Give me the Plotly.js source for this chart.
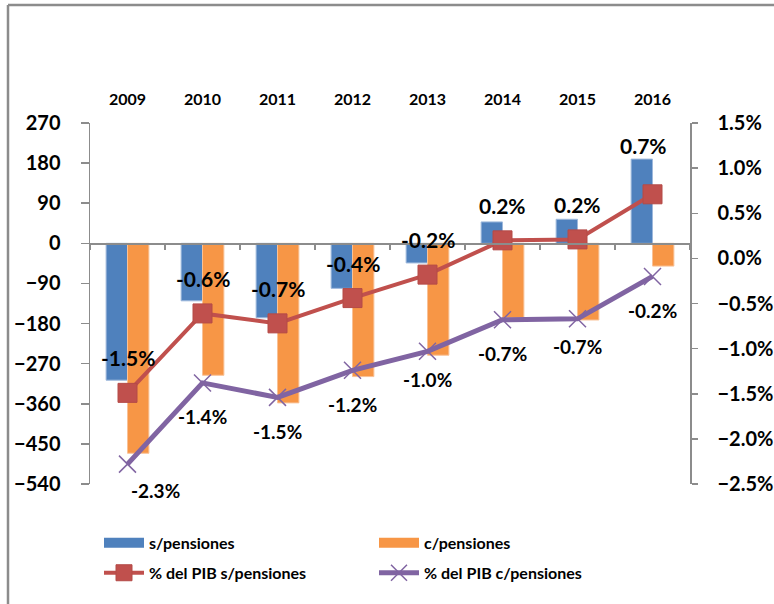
<!DOCTYPE html>
<html>
<head>
<meta charset="utf-8">
<script src="https://cdn.plot.ly/plotly-3.0.1.min.js"></script>
<style>html,body{margin:0;padding:0;background:#fff;}#err{position:absolute;left:20px;top:20px;color:red;font:12px sans-serif;}</style>
</head>
<body>
<div id="chart" style="width:774px;height:604px;"></div>
<div id="err"></div>
<script>
window.onerror = function(m){ document.getElementById('err').textContent += ' ERR: ' + m; };
const years = ['2009','2010','2011','2012','2013','2014','2015','2016'];
const sinPensiones = [-307, -129, -167, -101, -44, 48, 54, 189];
const conPensiones = [-471, -296, -358, -299, -251, -167, -172, -51];
const pibSinPensiones = [-1.49, -0.61, -0.72, -0.44, -0.18, 0.20, 0.21, 0.71];
const pibConPensiones = [-2.28, -1.38, -1.54, -1.24, -1.03, -0.68, -0.67, -0.20];

const FONT = 'Lato, "Open Sans", sans-serif';
const AXC = '#8c8c8c';
const BLUE = '#4F81BD', ORANGE = '#F79646', RED = '#C0504D', PURPLE = '#8064A2';
// hand-placed data labels in the original (pixel nudges, style only)
const redLabelNudge = {'2016': {dx:-9, dy:14}};
const purpleLabelNudge = {'2009': {dx:28, dy:8}, '2013': {dx:0, dy:6}, '2015': {dx:0, dy:6}};

const traces = [
  {type:'bar', name:'s/pensiones', x:years, y:sinPensiones, xaxis:'x', yaxis:'y', showlegend:false,
   marker:{color:BLUE, line:{color:'#9db8dc', width:1}}},
  {type:'bar', name:'c/pensiones', x:years, y:conPensiones, xaxis:'x', yaxis:'y', showlegend:false,
   marker:{color:ORANGE, line:{color:'#f9c196', width:1}}},
  {type:'scatter', mode:'lines+markers', name:'% del PIB s/pensiones', x:years, y:pibSinPensiones,
   xaxis:'x2', yaxis:'y2', cliponaxis:false, legend:'legend2',
   line:{color:RED, width:4}, marker:{symbol:'square', size:19, color:RED, line:{color:'#b44a47', width:1}}},
  {type:'scatter', mode:'lines+markers', name:'% del PIB c/pensiones', x:years, y:pibConPensiones,
   xaxis:'x2', yaxis:'y2', cliponaxis:false, legend:'legend2',
   line:{color:PURPLE, width:5}, marker:{symbol:'x-thin', size:17, line:{color:PURPLE, width:1.5}}},
  // legend swatches for the two bar series (no data of their own)
  {type:'scatter', mode:'lines', name:'s/pensiones', x:[null], y:[null], xaxis:'x', yaxis:'y', legend:'legend',
   line:{color:BLUE, width:12}, hoverinfo:'skip'},
  {type:'scatter', mode:'lines', name:'c/pensiones', x:[null], y:[null], xaxis:'x', yaxis:'y', legend:'legend',
   line:{color:ORANGE, width:12}, hoverinfo:'skip'}
];

const annotations = [];
years.forEach((yr, i) => {
  const rn = redLabelNudge[yr] || {dx:0, dy:0};
  const pn = purpleLabelNudge[yr] || {dx:0, dy:0};
  // category axes take the category's serial number
  annotations.push({x:i, y:pibSinPensiones[i], xref:'x', yref:'y2', text:'<b>'+pibSinPensiones[i].toFixed(1)+'%</b>',
    showarrow:false, xshift:rn.dx, yshift:35 + rn.dy, font:{family:FONT, size:21, color:'#000'}});
  annotations.push({x:i, y:pibConPensiones[i], xref:'x', yref:'y2', text:'<b>'+pibConPensiones[i].toFixed(1)+'%</b>',
    showarrow:false, xshift:pn.dx, yshift:-34 + pn.dy, font:{family:FONT, size:19, color:'#000'}});
});

const legendCommon = {orientation:'h', xanchor:'left', yanchor:'top', x:0.015,
  entrywidth:220, entrywidthmode:'pixels', itemwidth:40, tracegroupgap:0, bgcolor:'rgba(0,0,0,0)',
  font:{family:FONT, size:16, color:'#000', weight:'bold'}};

const layout = {
  width:774, height:604,
  margin:{l:90, r:84, t:123, b:120, pad:0, autoexpand:false},
  paper_bgcolor:'#fff', plot_bgcolor:'#fff',
  font:{family:FONT, color:'#000'},
  barmode:'group', bargap:0.43, bargroupgap:0,
  showlegend:true,
  legend:Object.assign({}, legendCommon, {y:-0.116}),
  legend2:Object.assign({}, legendCommon, {y:-0.199}),
  xaxis:{type:'category', range:[-0.5,7.5], anchor:'free', position:540/810,
    showline:true, linecolor:AXC, linewidth:1.5, ticks:'outside', tickson:'boundaries',
    ticklen:5, tickcolor:AXC, tickwidth:1.5, showticklabels:false, showgrid:false, zeroline:false},
  xaxis2:{type:'category', range:[-0.5,7.5], overlaying:'x', side:'top', anchor:'y2',
    showline:false, ticks:'', showgrid:false, zeroline:false, ticklabelstandoff:14,
    tickfont:{family:FONT, size:16, color:'#000', weight:'bold'}},
  yaxis:{range:[-540,270], tickmode:'linear', tick0:0, dtick:90, showline:true, linecolor:AXC, linewidth:1.5,
    ticks:'outside', ticklen:8, tickcolor:AXC, tickwidth:1.5, showgrid:false, zeroline:false,
    ticklabelstandoff:16, tickfont:{family:FONT, size:20, color:'#000', weight:'bold'}},
  yaxis2:{range:[-2.5,1.5], tickmode:'linear', tick0:0, dtick:0.5, tickformat:'.1f', ticksuffix:'%',
    overlaying:'y', side:'right', anchor:'x2', showline:true, linecolor:AXC, linewidth:1.5,
    ticks:'outside', ticklen:6, tickcolor:AXC, tickwidth:1.5,
    showgrid:false, zeroline:false, ticklabelstandoff:16,
    tickfont:{family:FONT, size:20, color:'#000', weight:'bold'}},
  annotations:annotations,
  shapes:[
    {type:'line', xref:'paper', yref:'paper', x0:(8-90)/600, x1:(774-90)/600, y0:(484-5)/361, y1:(484-5)/361,
     line:{color:AXC, width:2.5}},
    {type:'line', xref:'paper', yref:'paper', x0:(8-90)/600, x1:(8-90)/600, y0:(484-5)/361, y1:(484-604)/361,
     line:{color:AXC, width:2.5}}
  ]
};

try {
  Plotly.newPlot('chart', traces, layout, {displayModeBar:false, staticPlot:true})
    .catch(e => { document.getElementById('err').textContent += ' P: ' + e; });
} catch (e) { document.getElementById('err').textContent += ' T: ' + e; }
</script>
</body>
</html>
